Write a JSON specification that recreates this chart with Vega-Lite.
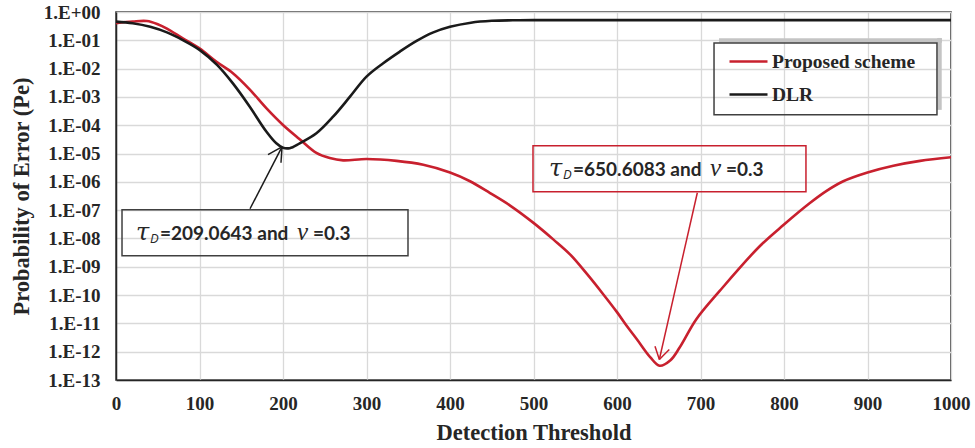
{
  "$schema": "https://vega.github.io/schema/vega-lite/v6.json",
  "width": 835,
  "height": 368,
  "autosize": {"type": "none"},
  "padding": {"left": 116, "top": 12, "right": 24, "bottom": 68},
  "background": "white",
  "config": {
    "view": {"stroke": "#262626", "strokeWidth": 1.5},
    "axis": {
      "labelFont": "Liberation Serif", "labelFontWeight": "bold", "labelFontSize": 19, "labelColor": "#262626",
      "titleFont": "Liberation Serif", "titleFontWeight": "bold", "titleFontSize": 22.5, "titleColor": "#262626",
      "ticks": false, "domainColor": "#262626", "domainWidth": 1.5,
      "gridColor": "#d9d9d9", "gridWidth": 1.3
    }
  },
  "datasets": {
    "curves": [
      {"x": 0, "pe": 0.40, "series": "Proposed scheme"},
      {"x": 20, "pe": 0.46, "series": "Proposed scheme"},
      {"x": 37, "pe": 0.48, "series": "Proposed scheme"},
      {"x": 50, "pe": 0.37, "series": "Proposed scheme"},
      {"x": 61, "pe": 0.26, "series": "Proposed scheme"},
      {"x": 80, "pe": 0.117, "series": "Proposed scheme"},
      {"x": 100, "pe": 0.052, "series": "Proposed scheme"},
      {"x": 120, "pe": 0.0178, "series": "Proposed scheme"},
      {"x": 140, "pe": 0.0069, "series": "Proposed scheme"},
      {"x": 160, "pe": 0.00186, "series": "Proposed scheme"},
      {"x": 180, "pe": 4.0e-4, "series": "Proposed scheme"},
      {"x": 200, "pe": 1.02e-4, "series": "Proposed scheme"},
      {"x": 220, "pe": 3.2e-5, "series": "Proposed scheme"},
      {"x": 240, "pe": 1.05e-5, "series": "Proposed scheme"},
      {"x": 256, "pe": 6.9e-6, "series": "Proposed scheme"},
      {"x": 272, "pe": 5.75e-6, "series": "Proposed scheme"},
      {"x": 300, "pe": 6.4e-6, "series": "Proposed scheme"},
      {"x": 336, "pe": 5.5e-6, "series": "Proposed scheme"},
      {"x": 368, "pe": 4.0e-6, "series": "Proposed scheme"},
      {"x": 400, "pe": 2.14e-6, "series": "Proposed scheme"},
      {"x": 424, "pe": 1.05e-6, "series": "Proposed scheme"},
      {"x": 448, "pe": 4.0e-7, "series": "Proposed scheme"},
      {"x": 472, "pe": 1.45e-7, "series": "Proposed scheme"},
      {"x": 500, "pe": 3.55e-8, "series": "Proposed scheme"},
      {"x": 524, "pe": 9.1e-9, "series": "Proposed scheme"},
      {"x": 544, "pe": 2.7e-9, "series": "Proposed scheme"},
      {"x": 564, "pe": 5.6e-10, "series": "Proposed scheme"},
      {"x": 583, "pe": 1.12e-10, "series": "Proposed scheme"},
      {"x": 600, "pe": 2.5e-11, "series": "Proposed scheme"},
      {"x": 612, "pe": 7.9e-12, "series": "Proposed scheme"},
      {"x": 624, "pe": 2.7e-12, "series": "Proposed scheme"},
      {"x": 640, "pe": 6.3e-13, "series": "Proposed scheme"},
      {"x": 651, "pe": 3.2e-13, "series": "Proposed scheme"},
      {"x": 664, "pe": 5.0e-13, "series": "Proposed scheme"},
      {"x": 675, "pe": 1.4e-12, "series": "Proposed scheme"},
      {"x": 695, "pe": 1.4e-11, "series": "Proposed scheme"},
      {"x": 723, "pe": 1.4e-10, "series": "Proposed scheme"},
      {"x": 770, "pe": 5.0e-9, "series": "Proposed scheme"},
      {"x": 800, "pe": 3.1e-8, "series": "Proposed scheme"},
      {"x": 831, "pe": 1.78e-7, "series": "Proposed scheme"},
      {"x": 851, "pe": 4.8e-7, "series": "Proposed scheme"},
      {"x": 871, "pe": 1.05e-6, "series": "Proposed scheme"},
      {"x": 900, "pe": 2.14e-6, "series": "Proposed scheme"},
      {"x": 931, "pe": 3.7e-6, "series": "Proposed scheme"},
      {"x": 963, "pe": 5.5e-6, "series": "Proposed scheme"},
      {"x": 1000, "pe": 7.4e-6, "series": "Proposed scheme"},
      {"x": 0, "pe": 0.457, "series": "DLR"},
      {"x": 20, "pe": 0.40, "series": "DLR"},
      {"x": 41, "pe": 0.30, "series": "DLR"},
      {"x": 61, "pe": 0.19, "series": "DLR"},
      {"x": 80, "pe": 0.102, "series": "DLR"},
      {"x": 100, "pe": 0.046, "series": "DLR"},
      {"x": 121, "pe": 0.0135, "series": "DLR"},
      {"x": 140, "pe": 0.0030, "series": "DLR"},
      {"x": 160, "pe": 4.6e-4, "series": "DLR"},
      {"x": 180, "pe": 6.0e-5, "series": "DLR"},
      {"x": 192, "pe": 2.3e-5, "series": "DLR"},
      {"x": 200, "pe": 1.6e-5, "series": "DLR"},
      {"x": 208, "pe": 1.55e-5, "series": "DLR"},
      {"x": 220, "pe": 2.3e-5, "series": "DLR"},
      {"x": 240, "pe": 5.2e-5, "series": "DLR"},
      {"x": 260, "pe": 2.0e-4, "series": "DLR"},
      {"x": 280, "pe": 1.0e-3, "series": "DLR"},
      {"x": 300, "pe": 5.2e-3, "series": "DLR"},
      {"x": 320, "pe": 0.0155, "series": "DLR"},
      {"x": 340, "pe": 0.040, "series": "DLR"},
      {"x": 360, "pe": 0.095, "series": "DLR"},
      {"x": 380, "pe": 0.19, "series": "DLR"},
      {"x": 400, "pe": 0.30, "series": "DLR"},
      {"x": 425, "pe": 0.42, "series": "DLR"},
      {"x": 450, "pe": 0.49, "series": "DLR"},
      {"x": 475, "pe": 0.51, "series": "DLR"},
      {"x": 500, "pe": 0.515, "series": "DLR"},
      {"x": 600, "pe": 0.515, "series": "DLR"},
      {"x": 700, "pe": 0.515, "series": "DLR"},
      {"x": 800, "pe": 0.515, "series": "DLR"},
      {"x": 900, "pe": 0.515, "series": "DLR"},
      {"x": 1000, "pe": 0.515, "series": "DLR"}
    ],
    "ann": [
      {"x": 25.1, "y": 9.1e-9, "num": "=209.0643 and"},
      {"x": 519.8, "y": 1.64e-6, "num": "=650.6083 and"}
    ]
  },
  "layer": [
    {
      "data": {"name": "curves"},
      "mark": {"type": "line", "strokeWidth": 2.6, "interpolate": "catmull-rom", "clip": true},
      "encoding": {
        "x": {
          "field": "x", "type": "quantitative",
          "scale": {"domain": [0, 1000], "nice": false, "zero": false},
          "axis": {"title": "Detection Threshold", "values": [0, 100, 200, 300, 400, 500, 600, 700, 800, 900, 1000],
                   "format": "d", "labelPadding": 14, "titlePadding": 8, "labelFlush": false, "labelOverlap": false, "grid": true}
        },
        "y": {
          "field": "pe", "type": "quantitative",
          "scale": {"type": "log", "domain": [1e-13, 1], "nice": false},
          "axis": {"title": "Probability of Error (Pe)",
                   "values": [1e-13, 1e-12, 1e-11, 1e-10, 1e-9, 1e-8, 1e-7, 1e-6, 1e-5, 1e-4, 1e-3, 1e-2, 1e-1, 1],
                   "labelExpr": "'1.E' + (round(log(datum.value)/LN10) < 0 ? '-' : '+') + (abs(round(log(datum.value)/LN10)) < 10 ? '0' : '') + abs(round(log(datum.value)/LN10))",
                   "labelPadding": 16, "titlePadding": 10, "labelOverlap": false, "grid": true}
        },
        "color": {
          "field": "series", "type": "nominal",
          "scale": {"domain": ["Proposed scheme", "DLR"], "range": ["#c8202e", "#1a1a1a"]},
          "legend": {
            "orient": "none", "legendX": 612, "legendY": 29, "title": null,
            "symbolType": "stroke", "symbolSize": 1444, "symbolStrokeWidth": 2.6,
            "labelFont": "Liberation Serif", "labelFontWeight": "bold", "labelFontSize": 19.5,
            "labelColor": "#262626", "labelOffset": 3, "rowPadding": 3, "padding": 0
          }
        }
      }
    },
    {
      "data": {"values": [
        {"x": 722.2, "x2": 989.2, "y": 0.0989, "y2": 0.0989},
        {"x": 986.2, "x2": 986.2, "y": 0.121, "y2": 3.49e-4}
      ]},
      "mark": {"type": "rule", "color": "#c4c4c4", "strokeWidth": 4.5},
      "encoding": {
        "x": {"field": "x", "type": "quantitative"},
        "x2": {"field": "x2"},
        "y": {"field": "y", "type": "quantitative"},
        "y2": {"field": "y2"}
      }
    },
    {
      "data": {"values": [{"x": 716.2, "x2": 983.2, "y": 0.0806, "y2": 2.33e-4}]},
      "mark": {"type": "rect", "fill": null, "fillOpacity": 0, "stroke": "#404040", "strokeWidth": 1.5},
      "encoding": {
        "x": {"field": "x", "type": "quantitative"},
        "x2": {"field": "x2"},
        "y": {"field": "y", "type": "quantitative"},
        "y2": {"field": "y2"}
      }
    },
    {
      "data": {"values": [{"x": 7.2, "x2": 349.7, "y": 1.04e-7, "y2": 2.46e-9}]},
      "mark": {"type": "rect", "fill": null, "fillOpacity": 0, "stroke": "#404040", "strokeWidth": 1.5},
      "encoding": {
        "x": {"field": "x", "type": "quantitative"},
        "x2": {"field": "x2"},
        "y": {"field": "y", "type": "quantitative"},
        "y2": {"field": "y2"}
      }
    },
    {
      "data": {"values": [{"x": 499.4, "x2": 826.3, "y": 1.87e-5, "y2": 4.48e-7}]},
      "mark": {"type": "rect", "fill": null, "fillOpacity": 0, "stroke": "#c8202e", "strokeWidth": 1.5},
      "encoding": {
        "x": {"field": "x", "type": "quantitative"},
        "x2": {"field": "x2"},
        "y": {"field": "y", "type": "quantitative"},
        "y2": {"field": "y2"}
      }
    },
    {
      "data": {"values": [
        {"x": 160.5, "y": 1.12e-7, "x2": 198.8, "y2": 1.73e-5},
        {"x": 182, "y": 9.1e-6, "x2": 198.8, "y2": 1.73e-5},
        {"x": 197.6, "y": 4.7e-6, "x2": 198.8, "y2": 1.73e-5}
      ]},
      "mark": {"type": "rule", "color": "#1a1a1a", "strokeWidth": 1.5},
      "encoding": {
        "x": {"field": "x", "type": "quantitative"},
        "x2": {"field": "x2"},
        "y": {"field": "y", "type": "quantitative"},
        "y2": {"field": "y2"}
      }
    },
    {
      "data": {"values": [
        {"x": 696.2, "y": 4.12e-7, "x2": 650.7, "y2": 5.3e-13},
        {"x": 645.5, "y": 1.56e-12, "x2": 650.7, "y2": 5.3e-13},
        {"x": 662.6, "y": 1.2e-12, "x2": 650.7, "y2": 5.3e-13}
      ]},
      "mark": {"type": "rule", "color": "#c8202e", "strokeWidth": 1.5},
      "encoding": {
        "x": {"field": "x", "type": "quantitative"},
        "x2": {"field": "x2"},
        "y": {"field": "y", "type": "quantitative"},
        "y2": {"field": "y2"}
      }
    },
    {
      "data": {"name": "ann"},
      "mark": {"type": "text", "text": "τ", "font": "DejaVu Serif", "fontStyle": "italic", "fontSize": 24, "align": "left", "baseline": "alphabetic", "color": "#262626", "dx": -1},
      "encoding": {
        "x": {"field": "x", "type": "quantitative"},
        "y": {"field": "y", "type": "quantitative"}
      }
    },
    {
      "data": {"name": "ann"},
      "mark": {"type": "text", "text": "D", "font": "Open Sans", "fontStyle": "italic", "fontSize": 13, "align": "left", "baseline": "alphabetic", "color": "#262626", "dx": 13, "dy": 3},
      "encoding": {
        "x": {"field": "x", "type": "quantitative"},
        "y": {"field": "y", "type": "quantitative"}
      }
    },
    {
      "data": {"name": "ann"},
      "mark": {"type": "text", "font": "Lato", "fontWeight": "bold", "fontSize": 19, "align": "left", "baseline": "alphabetic", "color": "#262626", "dx": 23},
      "encoding": {
        "x": {"field": "x", "type": "quantitative"},
        "y": {"field": "y", "type": "quantitative"},
        "text": {"field": "num"}
      }
    },
    {
      "data": {"name": "ann"},
      "mark": {"type": "text", "text": "ν", "font": "Liberation Serif", "fontStyle": "italic", "fontSize": 25, "align": "left", "baseline": "alphabetic", "color": "#262626", "dx": 160},
      "encoding": {
        "x": {"field": "x", "type": "quantitative"},
        "y": {"field": "y", "type": "quantitative"}
      }
    },
    {
      "data": {"name": "ann"},
      "mark": {"type": "text", "text": "=0.3", "font": "Lato", "fontWeight": "bold", "fontSize": 19, "align": "left", "baseline": "alphabetic", "color": "#262626", "dx": 176},
      "encoding": {
        "x": {"field": "x", "type": "quantitative"},
        "y": {"field": "y", "type": "quantitative"}
      }
    }
  ]
}
